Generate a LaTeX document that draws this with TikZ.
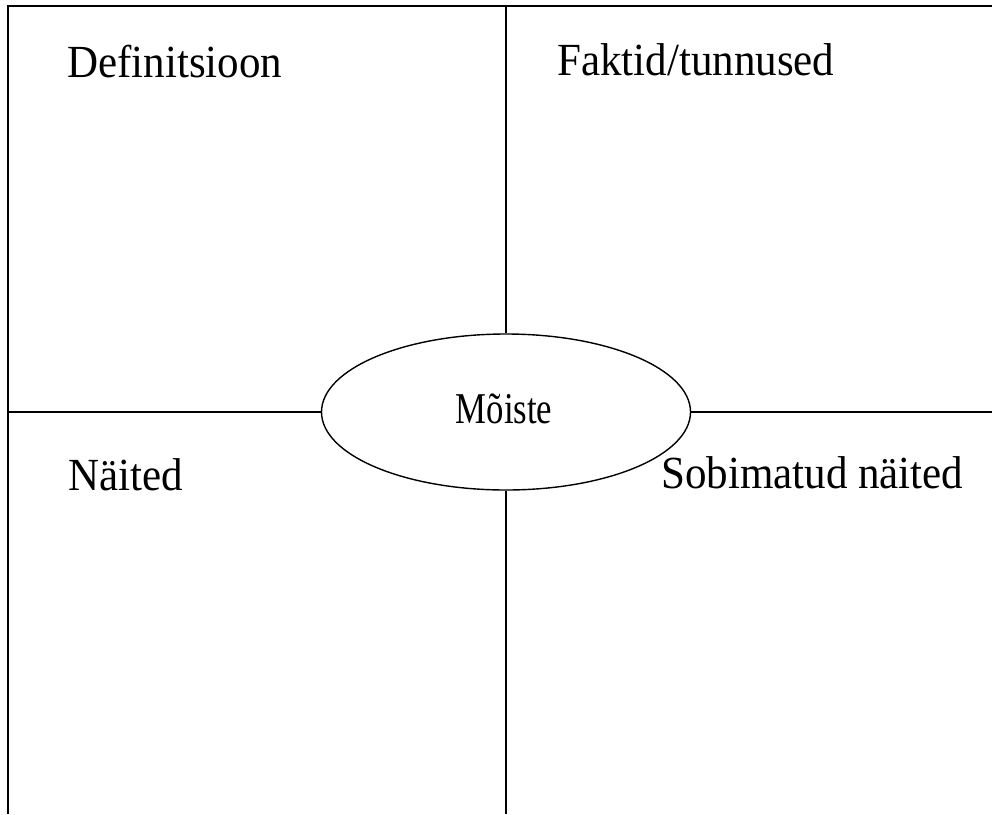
\documentclass[tikz,border=0pt]{standalone}
\usepackage{fontspec}
\usepackage{graphicx}
\setmainfont{Liberation Serif}
\usetikzlibrary{shapes.geometric}
\tikzset{
  rule/.style={line width=1.6pt, black},
  label/.style={anchor=base west, inner sep=0pt, font=\fontsize{46}{50}\selectfont},
}
\begin{document}
\begin{tikzpicture}[x=1pt,y=-1pt]
\useasboundingbox (0,0) rectangle (992,814);
\node[ellipse, draw, line width=1.4pt, minimum width=369pt, minimum height=156pt, inner sep=0pt] (core) at (506,412) {};
\node[inner sep=0pt, font=\fontsize{44}{46}\selectfont] (coretext) at (504,409) {\scalebox{0.79}[1]{Mõiste}};
\coordinate (tl) at (8,6);
\coordinate (tr) at (992,6);
\coordinate (bl) at (8,814);
\coordinate (mt) at (506,6);
\coordinate (mb) at (506,814);
\coordinate (lm) at (8,412);
\coordinate (rm) at (992,412);
\draw[rule] (tr) -- (tl) -- (bl);
\draw[rule] (mt) -- (core.north);
\draw[rule] (core.south) -- (mb);
\draw[rule] (lm) -- (core.west);
\draw[rule] (core.east) -- (rm);
\node[label] (def) at (67,77) {\scalebox{0.935}[1]{Definitsioon}};
\node[label] (fak) at (557,75) {\scalebox{0.935}[1]{Faktid/tunnused}};
\node[label] (nai) at (68,490) {\scalebox{0.935}[1]{Näited}};
\node[label] (sob) at (661,488) {\scalebox{0.935}[1]{Sobimatud näited}};
\end{tikzpicture}
\end{document}
